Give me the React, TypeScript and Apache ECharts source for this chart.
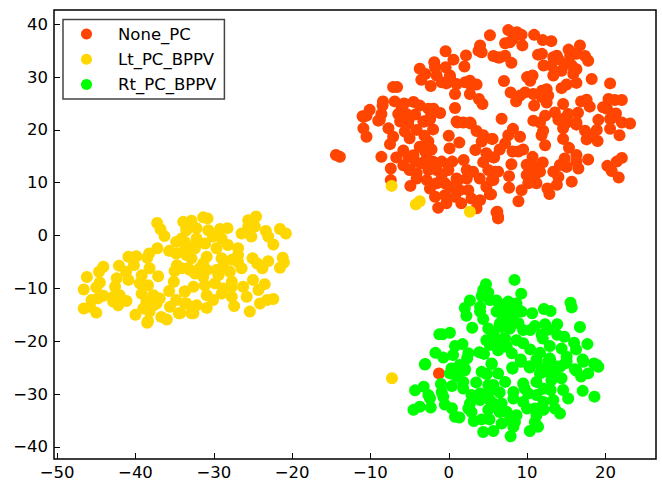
import React, { useEffect, useRef } from "react";
import * as echarts from "echarts";

const seriesNames = ["None_PC", "Lt_PC_BPPV", "Rt_PC_BPPV"];
const xTicks = [-50, -40, -30, -20, -10, 0, 10, 20];
const yTicks = [-40, -30, -20, -10, 0, 10, 20, 30, 40];

const nonePC = [
  [5.26,37.9],[-0.4,34.9],[2.2,34.1],[0.6,33.3],[2.0,32.0],[4.0,36.0],[3.8,35.0],[4.2,34.7],[5.7,34.0],[6.3,33.7],
  [-1.85,32.8],[-1.75,31.85],[-0.4,31.85],[-3.7,31.6],[-3.0,30.6],[-3.5,29.5],[-2.3,28.3],[-1.55,30.3],[0.15,30.3],
  [-0.9,29],[-0.3,28.8],[0.2,29.6],[1,28.7],[0.8,26.8],[2.1,29],[2.7,29.3],[3.55,28.6],[2.9,28.4],[2.7,26.8],
  [3.85,25.85],[4.3,24.9],[-7.1,28.1],[-6.6,28.1],[0.8,24.15],[-8.4,25.4],[-8.45,24.6],[-10.1,23.8],[-11,22.6],[-10.5,22.7],
  [-6.9,25.4],[-5.7,25],[-4.5,25.3],[-6,24],[-6.45,23],[-5.4,23],[-6,22],[-5.15,21.7],[-4.3,22.9],[-3.7,24.6],[-2.6,24],
  [-1.95,24],[-1.1,23.2],[-2.4,22],[-3.25,21.6],[-8.6,23],[-9,21.75],[1,21.6],[2.7,21.4],[1.85,21.4],
  [-14.4,15.25],[-13.9,14.9],[-10.9,22.5],[-8.8,21.9],[-10.9,20.3],[-10.5,18.7],[-7.7,20.3],[-7.1,18.7],[-7.5,17.3],
  [-8.6,14.9],[-7.4,12.7],[-7.4,10.5],[-4.9,9.4],[-5.8,16.1],[-6.7,14.8],[-5.8,13.3],[-5.15,14.9],[-4.5,15.2],[-4.3,14],
  [-5,12.4],[-4.1,11.8],[-6.2,21.6],[-5.2,21.2],[-4.1,20],[-5,18.4],[-5.6,19.7],[-3.1,21.6],[-2.4,22.2],[-2,20.1],
  [-3.1,18.9],[-2.6,17.8],[-3.7,16.8],[-2.2,16.3],[-3,15.9],[0,18.9],[0.1,16.5],[1.35,17.6],[1.1,21.4],[2.8,21.2],
  [3.55,19.8],[4.4,19],[4.2,17.8],[5.5,18.3],[3.4,16.2],[4.8,15.6],[5.7,14.8],[4.4,13.9],[1.9,14.3],[0.45,14],[-0.9,14],
  [-2,14],[-2.8,14.6],[-3.5,13.7],[-2.6,12.4],[-1.55,12.4],[-0.05,12.4],[-0.9,11.45],[2.3,12.4],[3.1,12.1],[3.95,10.8],
  [1.2,10.5],[2.3,10.8],[-4.1,10.8],[-2.8,10.5],[-2.4,8.9],[-1.55,9.9],[-0.5,9.9],[0.15,9.25],[1,10.8],[1.4,8.6],[2.5,8.6],
  [-1.75,7.35],[-0.5,7.65],[0.8,7.35],[-0.3,6.1],[1.6,6.1],[-1.35,5.25],[2.9,7],[4,6.7],[3.55,5.15],[4.8,9.25],[5.25,7.8],
  [5.7,10.5],[5.05,12.4],[5.9,12.1],[6.1,4.4],[6.3,3.25],[7.6,38.9],[8.7,38.5],[9.3,38],[8.2,37.2],[7.2,36.4],[7.8,36.6],
  [9.4,36],[10.9,38],[12,37],[13.1,36.8],[7.2,34.05],[6.5,33.7],[8,32.7],[11.4,34.25],[11.9,34.4],[15.3,35.2],[16.75,36],
  [16.3,34.4],[17.4,34],[17.8,33.1],[15.5,34.05],[13.8,34.05],[13.35,33.75],[12.1,32.2],[13.1,32.2],[14,33.4],[14.8,32.5],
  [15.7,32.2],[16.3,31.5],[14.4,31.2],[13.35,30.3],[15.9,30.6],[18.25,29.65],[20.6,28.8],[10,30],[10.7,30.3],[10.4,29.3],
  [7.05,29.25],[16.3,28.9],[15.05,28.6],[14.4,27.9],[7.9,27.1],[9.75,27.1],[9.1,26.5],[8.6,25.4],[10.8,26.8],[11.9,27.4],
  [12.5,27.7],[12.7,26.5],[11.9,26.2],[12.5,25.2],[10.9,24.6],[14.6,24.9],[16.9,25.4],[17.6,25.7],[18,24.4],[20.4,25.85],
  [21.2,25.65],[22.1,25.65],[19.7,24.3],[20.2,24],[21.35,23.1],[20.6,22.05],[22.1,21.4],[23.15,21.2],[13.55,23.3],[12.3,22.7],
  [10.8,21.75],[16.5,23.25],[15.25,23],[14,21.9],[15.05,21.4],[16.3,21.4],[19.1,21.9],[6.75,22.1],[11.65,21.4],[14.8,22.2],
  [16.3,21],[14.6,20.3],[20.8,22.2],[17.4,19.85],[17.6,18.2],[18.9,20],[19,17.9],[18.2,19],[20.6,20.2],[21.8,19],[11.85,19],
  [12.05,19.85],[12.3,17.1],[14.6,18.3],[15.35,16.6],[8.2,20.2],[7.6,19],[9.1,18.7],[5.6,18.3],[7.2,17.45],[6.5,16.3],
  [8.15,15.9],[8.9,15.9],[9.5,16.3],[10.7,14.9],[5.8,14.8],[8,13.5],[9.95,13.4],[11,13],[12,13.85],[14.8,14.6],[16.3,15.25],
  [16.3,14],[14.2,13.35],[15.05,13],[16.55,12.7],[17.8,14.4],[22.1,14.7],[21.45,14],[20.25,13.2],[20.8,12.2],[21.7,11],
  [6.3,12.1],[5.5,10.5],[7.7,11.25],[9.95,11.45],[11,11.45],[11.65,12.1],[13.35,12.1],[14,11.1],[11.2,9.9],[10.15,9.9],
  [15.7,10.2],[13.8,9.6],[12.6,8.9],[12.85,7.85],[7.7,9.05],[9.3,8.6],[8.9,6.5],[6.2,4.5],[6.3,3.55],[5.4,7.8],
  [-1.25,-26.1],
];

const ltPC = [
  [-7.3,9.4],[-4.2,5.9],[-3.7,6.5],[2.7,4.5],[-7.25,-27],
  [-37.23,2.4],[-36.8,1.2],[-36.3,-0.1],[-33.9,2.6],[-33.5,1.4],[-37.2,-2.4],[-38.25,-3.4],[-38.5,-4.2],[-40.9,-4],[-39.9,-3.9],
  [-40.2,-5.6],[-35.7,-2.9],[-34.8,-1.2],[-34.8,-3.4],[-33.7,-1.2],[-33.5,-3.7],[-44.1,-5.9],[-44.65,-6.85],[-46.2,-7.85],
  [-42.1,-5.7],[-41.2,-6.85],[-40.9,-8.4],[-42.4,-8.1],[-42.6,-9.7],[-44.55,-8.9],[-45,-9.8],[-44.1,-11.4],[-44.8,-11.9],
  [-46.6,-10.2],[-45.6,-12.2],[-46.6,-13.8],[-45.8,-13.5],[-45,-14.6],[-42.85,-11.6],[-42,-11.3],[-42.85,-12.5],[-42.2,-13.2],
  [-41.15,-12.4],[-38.2,-6.2],[-37.1,-7.7],[-39.2,-7.5],[-39.45,-9.05],[-38.4,-9.4],[-39.2,-11],[-37.7,-11.3],[-36.9,-11.9],
  [-38.6,-12.5],[-37.7,-13.2],[-39,-13.8],[-38.2,-14.4],[-40,-15],[-37.3,-12.85],[-38.5,-16.5],[-38.4,-16.2],[-36.7,-15.4],
  [-36,-15.9],[-34.7,-5.6],[-35,-6.7],[-33.3,-6.2],[-35.1,-8.75],[-35.7,-10.5],[-33.7,-10.6],[-34.8,-12.2],[-35.6,-13.5],
  [-33.7,-12.85],[-34.45,-14.7],[-32.6,-14.7],[-31.35,3.45],[-30.8,3.25],[-32.85,2.8],[-33.5,1],[-32.2,1.4],[-34.1,-0.55],
  [-24.6,3.6],[-25.6,2.9],[-26.45,0.4],[-25.2,-0.2],[-25.6,1.7],[-24.75,1.7],[-23.35,0.85],[-21.55,1.25],[-20.8,0.4],
  [-23.05,-0.2],[-22.4,-1.7],[-29.2,1.25],[-28.25,1.4],[-30.7,1],[-30.1,-0.2],[-31.1,-1.5],[-29,-0.55],[-29.65,-2.4],[-28.2,-1.8],
  [-32.2,-0.55],[-33.05,-2.1],[-32.4,-2.4],[-32.85,-4.3],[-33.9,-3.05],[-26.9,-2.4],[-26.9,-3.7],[-30.9,-4],[-29,-4.3],
  [-27.7,-4.6],[-26.9,-5],[-26.45,-6.2],[-25.05,-4.3],[-24.45,-5.3],[-23.8,-6.2],[-23.05,-4.85],[-21.2,-4.2],[-21.05,-5.1],
  [-21.55,-6.1],[-31.35,-5.3],[-31.8,-6.2],[-30.9,-6.5],[-32.4,-7.2],[-31.35,-7.8],[-33.05,-6.5],[-34.1,-6.2],[-29.65,-6.5],
  [-28.8,-5.9],[-27.95,-6.85],[-29.85,-9.05],[-29.4,-7.5],[-27.7,-8.75],[-28.8,-10],[-29,-11],[-27.7,-9.7],[-32.6,-9.7],
  [-33.7,-10.6],[-31.15,-9.4],[-30.9,-11.3],[-30.1,-12.2],[-27.7,-11.6],[-27.4,-13.35],[-25,-8.4],[-26.25,-9.7],[-25.8,-11.6],
  [-24.3,-10.3],[-23.5,-9.2],[-25.4,-14.4],[-24.1,-12.85],[-23.2,-12.2],[-22.4,-12],[-33.5,-12.85],[-32.2,-13.2],[-32.85,-14.7],
  [-30.9,-13.7],[-34.3,-14.7],
];

const rtPC = [
  [4.75,-9.2],[4.4,-10.3],[4.2,-11.45],[5.05,-10.8],[5.25,-12.2],[6.1,-12.3],[2.7,-12.3],[2.05,-13.7],[2.25,-15.2],[4,-13.5],
  [4,-14.4],[4.4,-15.8],[6.1,-14.4],[6.75,-14.7],[7.4,-12.85],[7.2,-16],[-1.2,-18.7],[-0.8,-18.7],[0.15,-18.4],[3,-17.45],[5.05,-17.6],
  [5.7,-18.5],[6.5,-17],[7.6,-17.3],[4.8,-19.8],[5.25,-20.7],[5.9,-19.8],[7,-19.5],[6.3,-21.7],[7.4,-21],[0.8,-20.9],[1.75,-20.55],
  [0.55,-22.6],[-1.7,-22.2],[-0.7,-23.1],[2.5,-22.3],[2.35,-23.25],[3.9,-22.1],[4.5,-22.4],[5.45,-24.2],[-3,-24.3],[1.4,-24.5],
  [2.05,-25.15],[0.35,-25.15],[8.4,-8.4],[9.25,-11],[7.6,-12.5],[8.65,-12.85],[7,-13.5],[7.8,-14.1],[9.3,-14.4],[8.45,-14.7],
  [10.65,-14.7],[12.15,-13.9],[13,-14.3],[15.55,-12.7],[15.7,-13.6],[16.75,-17.3],[13.85,-16.8],[12.3,-16.8],[12.7,-17.8],[11,-17.1],
  [10.4,-17.9],[9.5,-17.9],[8.9,-16.6],[7.8,-16],[7,-15.4],[6.75,-17.3],[7.8,-17.6],[13.85,-18.8],[14.75,-19.15],[12,-19.5],
  [11.85,-18.8],[12.9,-20.9],[16,-20.3],[16.25,-21.55],[17.7,-20.55],[8.65,-19.8],[9.5,-20.4],[10.4,-21.55],[7.2,-19.5],[7,-21],
  [8.05,-22.3],[9.2,-23.45],[11.65,-22.2],[11.2,-23.45],[14.4,-21.4],[15.05,-22.95],[12.9,-23.25],[12.7,-23.9],[17.1,-23.45],
  [18.55,-24.2],[18.9,-24.5],[14.85,-24.2],[14,-24.8],[8.1,-25],[10.3,-24.8],[11.85,-25.3],[13.1,-25.35],[16.1,-25.3],[6.54,-20.4],
  [6.54,-16.6],[-3.05,-24.4],[-4.3,-29.3],[-3.2,-28.6],[-2.6,-30.2],[-2.4,-30.8],[-4.5,-33],[-3.7,-32.4],[-2.3,-32.55],[-1,-28.1],
  [-0.9,-29.6],[-0.7,-30.5],[-0.5,-32],[0.4,-32.7],[0.8,-34.3],[1.35,-34.45],[0.15,-26.1],[1.2,-25.2],[2.05,-25.5],[1,-26.7],
  [0.4,-28.5],[1.85,-27.7],[1.85,-28.95],[4.2,-25.8],[4.85,-26.2],[6.3,-26.1],[7.2,-27.7],[5.5,-24.3],[8.15,-25.2],[3.5,-27.8],
  [5.05,-28.3],[5.7,-28.3],[6.5,-29.7],[5.05,-29.9],[4,-29.9],[2.9,-30.2],[2.7,-31.8],[2.5,-32.75],[2.9,-33.4],[4,-31.15],[5.25,-31.15],
  [5.7,-31.8],[5.05,-33],[6.75,-31.8],[6.5,-33.4],[7.4,-33.4],[8.65,-34],[7.8,-34.95],[8.45,-35.3],[6.75,-35.6],[3.2,-35.1],[4.2,-34.8],
  [5.2,-34.8],[4.4,-37.2],[5.7,-37],[7.9,-38],[8.25,-36.2],[10.35,-37],[11.4,-36.2],[11,-35.3],[8.25,-29.6],[8.25,-30.85],[9.5,-28],
  [9.7,-28.95],[10.15,-29.9],[9.5,-31.5],[10,-32.75],[11.2,-27.7],[11.65,-26.1],[12.1,-25.8],[13,-29.25],[12.1,-29],[11.2,-30.2],
  [12.1,-31.5],[11,-32.75],[12.1,-33],[11.2,-34],[13.35,-31.15],[13.55,-32.75],[14.2,-33.7],[14.6,-29.25],[15.25,-30.85],[17.1,-29.4],
  [18.6,-30.5],[13.35,-26.1],[14.4,-27],[13.1,-27.4],[14.2,-24.85],[15.05,-23.9],[16.3,-25.6],[16.9,-26.7],[17.8,-26.1],[18.65,-24.5],
  [19.1,-24.85],[17.2,-23.9],[10.35,-25],[11.2,-23.9],[13,-23.9],[9.2,-23.9],
];

const colors = ["#ff4500", "#ffd700", "#00ff00"];
const FONT = "DejaVu Sans";
const fmt = (v: number) => String(v).replace("-", "\u2212");

export default function App() {
  const ref = useRef<HTMLDivElement>(null);
  useEffect(() => {
    document.body.style.margin = "0";
    const chart = echarts.init(ref.current!, undefined, { renderer: "svg" });
    const axisCommon = {
      scale: true,
      splitLine: { show: false },
      axisLine: { show: false, onZero: false },
    };
    chart.setOption({
      animation: false,
      backgroundColor: "#fff",
      grid: { left: 54, right: 6, top: 10, bottom: 23, show: true, borderColor: "#000", borderWidth: 1.5, backgroundColor: "#fff" },
      xAxis: {
        ...axisCommon,
        type: "value",
        min: -50.4,
        max: 26.46,
        axisTick: { show: true, inside: true, length: 6, lineStyle: { color: "#000", width: 1 }, customValues: xTicks },
        axisLabel: { color: "#000", fontFamily: FONT, fontSize: 16.5, margin: 5, formatter: fmt, customValues: xTicks },
      },
      yAxis: {
        ...axisCommon,
        type: "value",
        min: -42.3,
        max: 42.7,
        axisTick: { show: true, inside: true, length: 6, lineStyle: { color: "#000", width: 1 }, customValues: yTicks },
        axisLabel: { color: "#000", fontFamily: FONT, fontSize: 16.5, margin: 6, formatter: fmt, customValues: yTicks },
      },
      legend: {
        left: 63,
        top: 19.5,
        orient: "vertical",
        padding: [5, 8, 5, 18],
        itemWidth: 11,
        itemHeight: 11,
        itemGap: 6.3,
        icon: "circle",
        borderColor: "#444",
        borderWidth: 1.5,
        backgroundColor: "#fff",
        textStyle: { color: "#000", fontFamily: FONT, fontSize: 16.5, lineHeight: 19, padding: [0, 0, 0, 21] },
        data: seriesNames,
      },
      series: [nonePC, ltPC, rtPC].map((d, i) => ({
        type: "scatter",
        name: seriesNames[i],
        data: d,
        symbol: "circle",
        symbolSize: 12,
        itemStyle: { color: colors[i], opacity: 1 },
        emphasis: { disabled: true },
        z: i + 2,
      })),
    });
    return () => chart.dispose();
  }, []);
  return <div ref={ref} style={{ width: 662, height: 482 }} />;
}
